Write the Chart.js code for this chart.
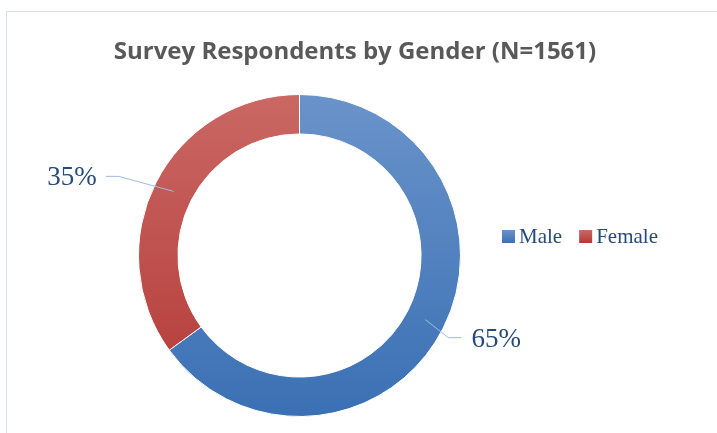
<!DOCTYPE html>
<html>
<head>
<meta charset="utf-8">
<script src="https://cdn.jsdelivr.net/npm/chart.js@4.4.1/dist/chart.umd.min.js"></script>
<style>
  html, body { margin: 0; padding: 0; background: #fff; }
  #wrap { position: relative; width: 717px; height: 433px; overflow: hidden; }
  #frame { position: absolute; left: 6px; top: 11px; width: 720px; height: 440px;
           border: 1px solid #D5E3F1; box-sizing: border-box; }
  canvas { position: absolute; left: 0; top: 0; }
</style>
</head>
<body>
<div id="wrap">
  <div id="frame"></div>
  <canvas id="genderChart" width="717" height="433"></canvas>
</div>
<script>
const categories = ['Male', 'Female'];
const shares = [65, 35];
const pctLabels = ['65%', '35%'];
const chartTitle = 'Survey Respondents by Gender (N=1561)';

// top/bottom gradient stops for each slice
const topColors = ['#6A93CA', '#CA6864'];
const bottomColors = ['#3A70B4', '#B33936'];

document.addEventListener("DOMContentLoaded", function() {
    function vGrad(ctx, y0, y1, i) {
        const g = ctx.createLinearGradient(0, y0, 0, y1);
        g.addColorStop(0, topColors[i]);
        g.addColorStop(1, bottomColors[i]);
        return g;
    }

    const labelFont = '27px "Liberation Serif", serif';
    const textBlue = '#254A7B';

    // title, leader lines, percentage labels and legend
    const overlay = {
        id: 'overlay',
        afterDraw(chart) {
            const ctx = chart.ctx;
            const meta = chart.getDatasetMeta(0);
            ctx.save();

            ctx.fillStyle = '#595959';
            ctx.font = 'bold 24px "Open Sans", sans-serif';
            ctx.textAlign = 'center';
            ctx.textBaseline = 'alphabetic';
            ctx.fillText(chartTitle, 355, 59);

            // leader lines
            const offs = [[23, 18, 13, 10], [-55, -15, -13, -9]];
            ctx.font = labelFont;
            ctx.textBaseline = 'middle';
            meta.data.forEach(function(arc, i) {
                const p = arc.getProps(['x', 'y', 'startAngle', 'endAngle', 'innerRadius', 'outerRadius'], true);
                const mid = (p.startAngle + p.endAngle) / 2;
                const r = (p.innerRadius + p.outerRadius) / 2;
                const mx = p.x + Math.cos(mid) * r;
                const my = p.y + Math.sin(mid) * r;
                const o = offs[i];
                const kx = mx + o[0], ky = my + o[1];
                const ex = kx + o[2];
                ctx.strokeStyle = '#9DBCE3';
                ctx.lineWidth = 1;
                ctx.beginPath();
                ctx.moveTo(mx, my);
                ctx.lineTo(kx, ky);
                ctx.lineTo(ex, ky);
                ctx.stroke();
                ctx.fillStyle = textBlue;
                ctx.textAlign = o[2] > 0 ? 'left' : 'right';
                ctx.fillText(pctLabels[i], ex + o[3], ky + 2);
            });

            // legend
            ctx.font = '21px "Liberation Serif", serif';
            ctx.textAlign = 'left';
            let x = 502;
            const y = 236;
            categories.forEach(function(name, i) {
                ctx.fillStyle = vGrad(ctx, y - 6, y + 7, i);
                ctx.fillRect(x, y - 6, 13, 13);
                ctx.fillStyle = textBlue;
                ctx.fillText(name, x + 17, y + 1);
                x += 17 + ctx.measureText(name).width + 17;
            });
            ctx.restore();
        }
    };

    const ctx = document.getElementById('genderChart').getContext('2d');
    new Chart(ctx, {
        type: 'doughnut',
        data: {
            labels: categories,
            datasets: [{
                data: shares,
                backgroundColor: function(c) {
                    const area = c.chart.chartArea;
                    if (!area) return topColors[c.dataIndex];
                    return vGrad(c.chart.ctx, area.top, area.bottom, c.dataIndex);
                },
                borderColor: '#ffffff',
                borderWidth: 1
            }]
        },
        options: {
            responsive: false,
            animation: false,
            cutout: '75.5%',
            layout: { padding: { left: 100, right: 218, top: 94, bottom: 16 } },
            plugins: {
                legend: { display: false },
                title: { display: false },
                tooltip: { enabled: false }
            }
        },
        plugins: [overlay]
    });
});
</script>
</body>
</html>
